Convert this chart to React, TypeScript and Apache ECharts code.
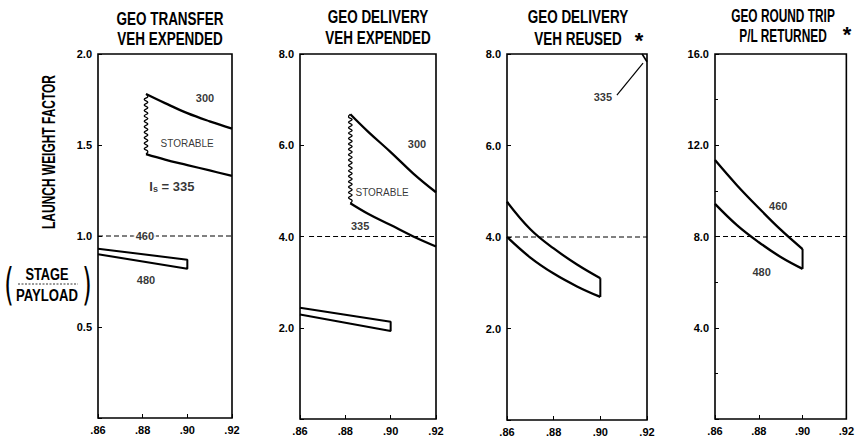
import React, { useEffect, useRef } from "react";
import * as echarts from "echarts";

// ---------- data ----------
const xTicks = [0.86, 0.88, 0.9, 0.92];
const yMax = [2, 8, 8, 16];
const yStep = [0.5, 2, 2, 4];

const titlesLine1 = ["GEO TRANSFER", "GEO DELIVERY", "GEO DELIVERY", "GEO ROUND TRIP"];
const titlesLine2 = ["VEH EXPENDED", "VEH EXPENDED", "VEH REUSED", "P/L RETURNED"];
const titleMarks = ["", "", "*", "*"];
const yAxisTitle = "LAUNCH WEIGHT FACTOR";
const fracTop = "STAGE";
const fracBottom = "PAYLOAD";

// panel 1 : GEO transfer, vehicle expended
const p1StorableUpper = [[0.8815, 1.78], [0.89, 1.73], [0.9, 1.675], [0.91, 1.63], [0.92, 1.59]];
const p1StorableLower = [[0.8815, 1.45], [0.89, 1.42], [0.9, 1.39], [0.91, 1.36], [0.92, 1.33]];
const p1StorableBreak = [[0.8815, 1.45, 1.78]];
const p1Band = [[0.86, 0.93], [0.9, 0.87], [0.9, 0.82], [0.86, 0.9]];
const p1Ref = [[0.86, 1.0], [0.92, 1.0]];

// panel 2 : GEO delivery, vehicle expended
const p2StorableUpper = [[0.8822, 6.68], [0.89, 6.3], [0.9, 5.85], [0.91, 5.38], [0.92, 4.97]];
const p2StorableLower = [[0.8822, 4.73], [0.89, 4.5], [0.9, 4.25], [0.91, 4.0], [0.92, 3.78]];
const p2StorableBreak = [[0.8822, 4.73, 6.68]];
const p2Band = [[0.86, 2.44], [0.9, 2.13], [0.9, 1.93], [0.86, 2.29]];
const p2Ref = [[0.864, 4.0], [0.92, 4.0]];

// panel 3 : GEO delivery, vehicle reused
const p3Upper = [[0.86, 4.77], [0.87, 4.17], [0.88, 3.75], [0.89, 3.4], [0.9, 3.1]];
const p3Lower = [[0.86, 4.0], [0.87, 3.55], [0.88, 3.2], [0.89, 2.92], [0.9, 2.69]];
const p3Close = [[0.9, 3.1], [0.9, 2.69]];
const p3Corner = [[0.9179, 8.0], [0.92, 7.83]];
const p3ArrowFrom = [0.9071, 7.1];
const p3ArrowTo = [0.9183, 7.8];
const p3Ref = [[0.86, 4.0], [0.92, 4.0]];

// panel 4 : GEO round trip, payload returned
const p4Upper = [[0.86, 11.35], [0.87, 10.25], [0.88, 9.25], [0.89, 8.3], [0.9, 7.45]];
const p4Lower = [[0.86, 9.43], [0.87, 8.5], [0.88, 7.75], [0.89, 7.1], [0.9, 6.58]];
const p4Close = [[0.9, 7.45], [0.9, 6.58]];
const p4Ref = [[0.86, 8.0], [0.92, 8.0]];

// annotations (data coordinates)
const notes = [
  { panel: 0, x: 0.9079, y: 1.76, text: "300", kind: "num" },
  { panel: 0, x: 0.8999, y: 1.51, text: "STORABLE", kind: "word" },
  { panel: 0, x: 0.8931, y: 1.28, text: "Is = 335", kind: "isp" },
  { panel: 0, x: 0.881, y: 1.0, text: "460", kind: "onLine" },
  { panel: 0, x: 0.8815, y: 0.76, text: "480", kind: "num" },
  { panel: 1, x: 0.9116, y: 6.02, text: "300", kind: "num" },
  { panel: 1, x: 0.8962, y: 4.97, text: "STORABLE", kind: "word" },
  { panel: 1, x: 0.8865, y: 4.22, text: "335", kind: "num" },
  { panel: 2, x: 0.9011, y: 7.06, text: "335", kind: "num" },
  { panel: 3, x: 0.8889, y: 9.34, text: "460", kind: "num" },
  { panel: 3, x: 0.8813, y: 6.45, text: "480", kind: "num" },
];

// ---------- layout / style ----------
const FONT = '"Liberation Sans", Arial, sans-serif';
const GRIDS = [
  { left: 98, top: 54, width: 134, height: 364 },
  { left: 300, top: 54, width: 136, height: 365 },
  { left: 507, top: 54, width: 140, height: 366 },
  { left: 715, top: 54, width: 136, height: 365 },
];
const TITLE_POS = [
  { x: 170, y1: 19, y2: 39, sx: 0.75, mx: 0, my: 0 },
  { x: 378, y1: 17, y2: 38, sx: 0.75, mx: 0, my: 0 },
  { x: 578, y1: 17, y2: 39, sx: 0.75, mx: 639, my: 40 },
  { x: 783, y1: 16, y2: 36, sx: 0.66, mx: 847, my: 34 },
];

function lineSeries(gi: number, data: number[][], opts: any = {}) {
  return {
    type: "line",
    xAxisIndex: gi,
    yAxisIndex: gi,
    data,
    symbol: "none",
    showSymbol: false,
    smooth: opts.smooth ?? 0,
    silent: true,
    clip: false,
    z: opts.z ?? 3,
    lineStyle: { color: "#000", width: opts.width ?? 2.3, type: opts.type ?? "solid" },
    ...(opts.extra || {}),
  };
}

function breakSeries(gi: number, data: number[][]) {
  return {
    type: "custom",
    xAxisIndex: gi,
    yAxisIndex: gi,
    data,
    silent: true,
    z: 3,
    encode: { x: 0, y: [1, 2] },
    renderItem: (params: any, api: any) => {
      const x = api.value(0);
      const a = api.coord([x, api.value(1)]);
      const b = api.coord([x, api.value(2)]);
      const len = Math.abs(b[1] - a[1]);
      const n = Math.max(2, Math.round(len / 2.7));
      const pts: number[][] = [];
      for (let i = 0; i <= n; i++) {
        const yy = a[1] + ((b[1] - a[1]) * i) / n;
        const off = i === 0 || i === n ? 0 : i % 2 ? 1.8 : -1.8;
        pts.push([a[0] + off, yy]);
      }
      return {
        type: "polyline",
        shape: { points: pts, smooth: 0.5 },
        style: { stroke: "#000", lineWidth: 1.3, fill: null },
      };
    },
  };
}

function noteLabel(kind: string, text: string) {
  const base: any = { show: true, position: "inside", color: "#000", fontFamily: FONT };
  if (kind === "num") return { ...base, formatter: text, fontSize: 11, fontWeight: "bold" };
  if (kind === "word") return { ...base, formatter: text, fontSize: 10, fontWeight: "normal" };
  if (kind === "onLine")
    return { ...base, formatter: text, fontSize: 11, fontWeight: "bold", backgroundColor: "#fff", padding: [1, 2] };
  return {
    ...base,
    formatter: "{i|I}{s|s}{i| = 335}",
    rich: {
      i: { fontSize: 13, fontWeight: "bold", fontFamily: FONT, color: "#000", lineHeight: 16, verticalAlign: "bottom" },
      s: { fontSize: 9, fontWeight: "bold", fontFamily: FONT, color: "#000", lineHeight: 16, verticalAlign: "bottom", padding: [4, 0, 0, 0] },
    },
  };
}

function txt(text: string, x: number, y: number, font: string, sx = 1, rotation = 0) {
  return {
    type: "text",
    x,
    y,
    scaleX: sx,
    rotation,
    silent: true,
    style: {
      text,
      font,
      fill: "#000",
      textAlign: "center",
      textVerticalAlign: "middle",
      align: "center",
      verticalAlign: "middle",
    },
  };
}

export default function App() {
  const ref = useRef<HTMLDivElement>(null);
  useEffect(() => {
    if (!ref.current) return;
    const chart = echarts.init(ref.current, undefined, { renderer: "svg" });

    const grid = GRIDS.map((g) => ({
      ...g,
      show: true,
      borderColor: "#000",
      borderWidth: 1.6,
      backgroundColor: "transparent",
      containLabel: false,
    }));

    const xAxis = GRIDS.map((_, i) => ({
      type: "value",
      gridIndex: i,
      min: xTicks[0],
      max: xTicks[xTicks.length - 1],
      interval: xTicks[1] - xTicks[0],
      axisLine: { show: false },
      axisTick: { show: true, inside: true, length: 4, lineStyle: { color: "#000", width: 1 } },
      splitLine: { show: false },
      axisLabel: {
        color: "#000",
        fontFamily: FONT,
        fontWeight: "bold",
        fontSize: 11,
        margin: 6,
        showMinLabel: true,
        showMaxLabel: true,
        formatter: (v: number) => v.toFixed(2).replace(/^0/, ""),
      },
    }));

    const yAxis = GRIDS.map((_, i) => ({
      type: "value",
      gridIndex: i,
      min: 0,
      max: yMax[i],
      interval: yStep[i],
      axisLine: { show: false },
      axisTick: { show: true, inside: true, length: 4, lineStyle: { color: "#000", width: 1 } },
      minorTick: i === 3 ? { show: true, splitNumber: 2, length: 3, lineStyle: { color: "#000" } } : { show: false },
      splitLine: { show: false },
      axisLabel: {
        color: "#000",
        fontFamily: FONT,
        fontWeight: "bold",
        fontSize: 11,
        margin: 6,
        showMaxLabel: true,
        formatter: (v: number) => (v === 0 ? "" : v.toFixed(1)),
      },
    }));

    const dash = { type: [5, 3] as any, width: 1, z: 2 };
    const series: any[] = [
      // panel 1
      lineSeries(0, p1Ref, dash),
      lineSeries(0, p1StorableUpper, { smooth: 0.4 }),
      lineSeries(0, p1StorableLower, { smooth: 0.4 }),
      breakSeries(0, p1StorableBreak),
      lineSeries(0, p1Band, { width: 2 }),
      // panel 2
      lineSeries(1, p2Ref, dash),
      lineSeries(1, p2StorableUpper, { smooth: 0.4 }),
      lineSeries(1, p2StorableLower, { smooth: 0.4 }),
      breakSeries(1, p2StorableBreak),
      lineSeries(1, p2Band, { width: 2 }),
      // panel 3
      lineSeries(2, p3Ref, dash),
      lineSeries(2, p3Upper, { smooth: 0.4 }),
      lineSeries(2, p3Lower, { smooth: 0.4 }),
      lineSeries(2, p3Close, { width: 2 }),
      lineSeries(2, p3Corner, {
        width: 1.6,
        extra: {
          markLine: {
            silent: true,
            symbol: ["none", "arrow"],
            symbolSize: [0, 7],
            label: { show: false },
            lineStyle: { color: "#000", width: 1.2, type: "solid" },
            data: [[{ coord: p3ArrowFrom }, { coord: p3ArrowTo }]],
          },
        },
      }),
      // panel 4
      lineSeries(3, p4Ref, dash),
      lineSeries(3, p4Upper, { smooth: 0.4 }),
      lineSeries(3, p4Lower, { smooth: 0.4 }),
      lineSeries(3, p4Close, { width: 2 }),
    ];

    for (let p = 0; p < 4; p++) {
      const items = notes.filter((n) => n.panel === p);
      series.push({
        type: "scatter",
        xAxisIndex: p,
        yAxisIndex: p,
        symbolSize: 0,
        silent: true,
        z: 6,
        itemStyle: { color: "#000" },
        data: items.map((n) => ({ value: [n.x, n.y], label: noteLabel(n.kind, n.text) })),
      });
    }

    const tFont = `bold 18px ${FONT}`;
    const graphic: any[] = [];
    TITLE_POS.forEach((t, i) => {
      graphic.push(txt(titlesLine1[i], t.x, t.y1, tFont, t.sx));
      graphic.push(txt(titlesLine2[i], t.x, t.y2, tFont, t.sx));
      if (titleMarks[i]) {
        graphic.push(txt(titleMarks[i], t.mx, t.my, `bold 22px ${FONT}`, 1));
      }
    });
    graphic.push(txt(yAxisTitle, 48.5, 152, tFont, 0.665, Math.PI / 2));
    graphic.push(txt(fracTop, 47, 274, `bold 16px ${FONT}`, 0.8));
    graphic.push(txt(fracBottom, 47, 296, `bold 16px ${FONT}`, 0.82));
    graphic.push({
      type: "line",
      silent: true,
      shape: { x1: 18, y1: 284, x2: 78, y2: 284 },
      style: { stroke: "#000", lineWidth: 0.8, lineDash: [2, 1.5] },
    });
    graphic.push(txt("(", 9, 285, `normal 44px "DejaVu Sans", sans-serif`, 0.55));
    graphic.push(txt(")", 87, 285, `normal 44px "DejaVu Sans", sans-serif`, 0.55));

    chart.setOption({
      animation: false,
      backgroundColor: "#fff",
      grid,
      xAxis,
      yAxis,
      series,
      graphic,
    });
    return () => chart.dispose();
  }, []);
  return (
    <div
      ref={ref}
      style={{ position: "fixed", left: 0, top: 0, width: 857, height: 440, background: "#fff" }}
    />
  );
}
